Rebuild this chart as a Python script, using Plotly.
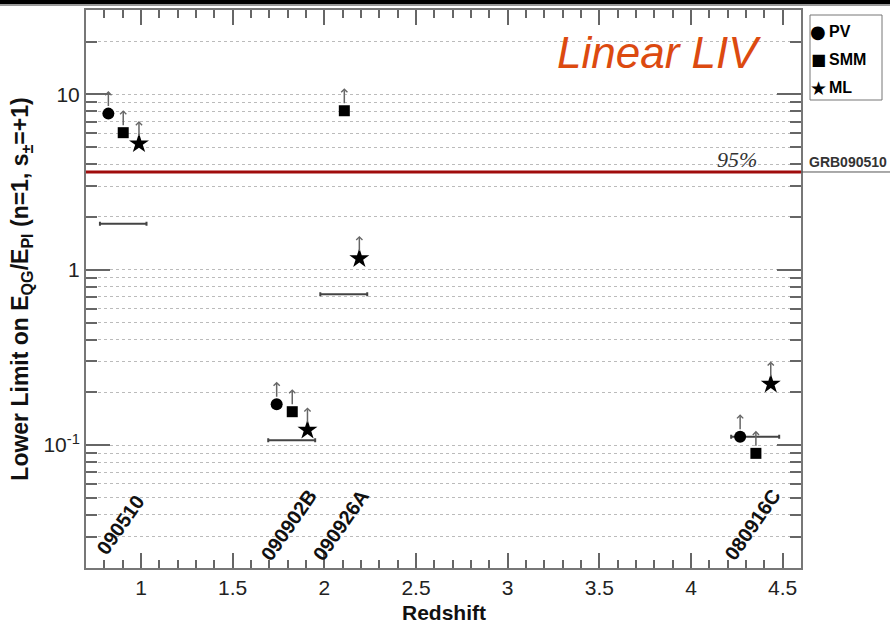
import numpy as np
import plotly.graph_objects as go

# ---------------- data ----------------
grb_names = ["090510", "090902B", "090926A", "080916C"]
grb_z = [0.903, 1.822, 2.106, 4.35]

pv_z = [0.822, 1.740, 4.268]
pv_limit = [7.77, 0.171, 0.1115]

smm_z = [0.903, 1.825, 2.109, 4.354]
smm_limit = [6.05, 0.155, 8.07, 0.0897]

ml_z = [0.989, 1.908, 2.191, 4.435]
ml_limit = [5.24, 0.122, 1.16, 0.223]

bar_limit = [1.83, 0.1064, 0.724, 0.1115]
bar_halfwidth = [0.127, 0.128, 0.128, 0.131]

cl95_limit = 3.61

legend_labels = ["PV", "SMM", "ML"]
legend_glyphs = ["\u25CF", "\u25A0", "\u2605"]

x_range = [0.7, 4.6]
y_range = [0.0199, 30.3]
y_major = [0.1, 1, 10]
y_major_text = ["10<sup>-1</sup>", "1", "10"]
y_minor = [k * 10.0 ** e for e in range(-2, 2) for k in range(2, 10)
           if y_range[0] < k * 10.0 ** e < y_range[1]]

label_y = 0.037

# ---------------- figure ----------------
W, H = 890, 627
ml_, mr_, mt_, mb_ = 86, 89, 10, 59
pw, ph = W - ml_ - mr_, H - mt_ - mb_


def px_x(p):
    return (p - ml_) / pw


def px_y(p):
    return (H - mb_ - p) / ph


fig = go.Figure()

# horizontal bars
fig.add_trace(go.Scatter(
    x=grb_z, y=bar_limit, mode="markers",
    marker=dict(size=1, color="rgba(0,0,0,0)"),
    error_x=dict(type="data", array=bar_halfwidth, symmetric=True,
                 color="#444", thickness=2, width=2),
    hoverinfo="skip", showlegend=False))

series = [
    ("PV", pv_z, pv_limit, "circle", 12),
    ("SMM", smm_z, smm_limit, "square", 11),
    ("ML", ml_z, ml_limit, "star", 15),
]
for name, xs, ys, sym, sz in series:
    fig.add_trace(go.Scatter(
        x=xs, y=ys, mode="markers", name=name,
        marker=dict(symbol=sym, size=sz, color="black", line=dict(width=0)),
        showlegend=False))
    for x, y in zip(xs, ys):
        fig.add_annotation(
            x=x, y=np.log10(y), xref="x", yref="y", text="",
            showarrow=True, arrowhead=4, arrowsize=0.8, arrowwidth=1.5,
            arrowcolor="#666", axref="pixel", ayref="pixel",
            ax=0, ay=22.5, yshift=22.5, startstandoff=6)

# 95% line
fig.add_shape(type="line", xref="paper", yref="y", x0=0, x1=px_x(W),
              y0=cl95_limit, y1=cl95_limit, line=dict(color="#555", width=1))
fig.add_shape(type="line", xref="paper", yref="y", x0=0, x1=1,
              y0=cl95_limit, y1=cl95_limit, line=dict(color="#a00c0c", width=3))
fig.add_annotation(x=px_x(737), y=np.log10(cl95_limit), xref="paper", yref="y",
                   xanchor="center", yanchor="middle",
                   yshift=12, text="<i>95%</i>", showarrow=False,
                   font=dict(family="Liberation Serif", size=22, color="#333"))
fig.add_annotation(x=px_x(848), y=np.log10(cl95_limit), xref="paper", yref="y",
                   xanchor="center", yanchor="middle",
                   yshift=10, text="<b>GRB090510</b>", showarrow=False,
                   font=dict(family="Liberation Sans", size=14, color="#333"))

# GRB labels
for name, z in zip(grb_names, grb_z):
    fig.add_annotation(x=z, y=np.log10(label_y), xref="x", yref="y",
                       xanchor="center", yanchor="middle",
                       xshift=-3, yshift=-4, text="<b>" + name + "</b>",
                       showarrow=False, textangle=-55,
                       font=dict(family="Liberation Sans", size=20, color="#111"))

# title text
fig.add_annotation(x=px_x(659), y=px_y(52), xref="paper", yref="paper",
                   xanchor="center", yanchor="middle",
                   text="<i>Linear LIV</i>", showarrow=False,
                   font=dict(family="Liberation Sans", size=44, color="#dc4a10"))

# x-axis title
fig.add_annotation(x=0.5, y=px_y(612), xref="paper", yref="paper",
                   xanchor="center", yanchor="middle",
                   text="<b>Redshift</b>", showarrow=False,
                   font=dict(family="Liberation Sans", size=21, color="#111"))

# legend box
fig.add_shape(type="rect", xref="paper", yref="paper",
              x0=px_x(810), x1=px_x(882), y0=px_y(100), y1=px_y(15),
              line=dict(color="#777", width=1), fillcolor="white")
leg_y = [31.7, 59, 88]
glyph_sizes = [18, 16, 19]
for lab, gl, py, gs in zip(legend_labels, legend_glyphs, leg_y, glyph_sizes):
    fig.add_annotation(x=px_x(818), y=px_y(py), xref="paper", yref="paper",
                       text=gl, showarrow=False, xanchor="center", yanchor="middle",
                       font=dict(family="DejaVu Sans", size=gs, color="black"))
    fig.add_annotation(x=px_x(827), y=px_y(py), xref="paper", yref="paper",
                       text="<b>" + lab + "</b>", showarrow=False, xanchor="left",
                       yanchor="middle",
                       font=dict(family="Liberation Sans", size=16, color="black"))

# screenshot band at top
fig.add_shape(type="rect", xref="paper", yref="paper", x0=px_x(0), x1=px_x(W),
              y0=px_y(4), y1=px_y(0), line=dict(width=0), fillcolor="black")
fig.add_shape(type="rect", xref="paper", yref="paper", x0=px_x(0), x1=px_x(W),
              y0=px_y(6), y1=px_y(4), line=dict(width=0), fillcolor="#999")

axis_common = dict(showline=True, linecolor="#777", linewidth=2,
                   mirror="allticks", ticks="inside", tickcolor="#666",
                   tickwidth=1.5, zeroline=False, automargin=False,
                   tickfont=dict(family="Liberation Sans", size=21, color="#222"))

fig.update_layout(
    width=W, height=H,
    margin=dict(l=ml_, r=mr_, t=mt_, b=mb_, autoexpand=False),
    paper_bgcolor="white", plot_bgcolor="white",
    showlegend=False,
    xaxis=dict(range=x_range, tick0=0, dtick=0.5, ticklen=15,
               showgrid=False,
               minor=dict(dtick=0.1, tick0=0, ticks="inside", ticklen=8,
                          tickcolor="#666", tickwidth=1.5, showgrid=False),
               **axis_common),
    yaxis=dict(type="log", range=[np.log10(y_range[0]), np.log10(y_range[1])],
               tickmode="array", tickvals=y_major, ticktext=y_major_text,
               ticklen=24, showgrid=True, gridcolor="#bbb", griddash="dot",
               gridwidth=1,
               minor=dict(tickmode="array", tickvals=y_minor, ticks="inside",
                          ticklen=11, tickcolor="#666", tickwidth=1.5,
                          showgrid=True, gridcolor="#bbb", griddash="dot",
                          gridwidth=1),
               title=dict(text="<b>Lower Limit on E<sub>QG</sub>/E<sub>Pl</sub> (n=1, s<sub>\u00b1</sub>=+1)</b>",
                          standoff=8,
                          font=dict(family="Liberation Sans", size=23, color="#111")),
               **axis_common),
)

fig.write_html("out.html")
